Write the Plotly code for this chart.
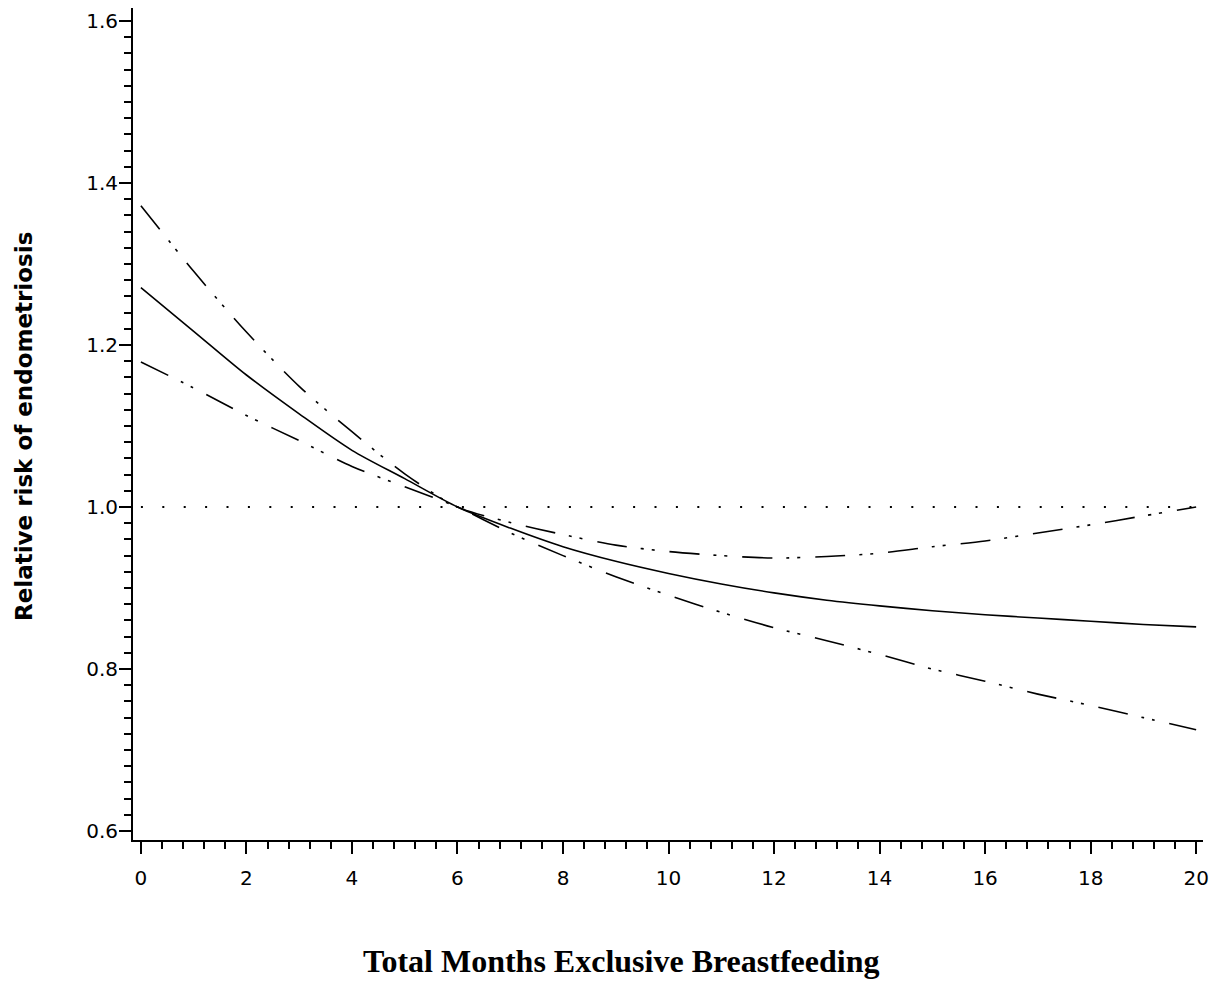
import plotly.graph_objects as go

# Data
months = list(range(21))
relative_risk = [1.271, 1.217, 1.163, 1.115, 1.070, 1.035, 1.000, 0.974, 0.951, 0.933, 0.918,
                 0.905, 0.894, 0.885, 0.878, 0.872, 0.867, 0.863, 0.859, 0.855, 0.852]
upper_ci = [1.372, 1.291, 1.216, 1.149, 1.093, 1.041, 1.000, 0.981, 0.966, 0.953, 0.945,
            0.940, 0.937, 0.939, 0.943, 0.951, 0.958, 0.968, 0.978, 0.989, 1.000]
lower_ci = [1.179, 1.147, 1.113, 1.082, 1.050, 1.025, 1.000, 0.968, 0.940, 0.914, 0.891,
            0.870, 0.851, 0.835, 0.818, 0.800, 0.785, 0.769, 0.755, 0.740, 0.725]
ref_x = [0, 20]
ref_y = [1.0, 1.0]
x_ticks = [0, 2, 4, 6, 8, 10, 12, 14, 16, 18, 20]
y_ticks = [0.6, 0.8, 1.0, 1.2, 1.4, 1.6]
x_title = "Total Months Exclusive Breastfeeding"
y_title = "Relative risk of endometriosis"

fig = go.Figure()
fig.add_trace(go.Scatter(x=ref_x, y=ref_y, mode="lines",
                         line=dict(color="black", width=2, dash="2px,19.4px"),
                         hoverinfo="skip"))
fig.add_trace(go.Scatter(x=months, y=upper_ci, mode="lines",
                         line=dict(color="black", width=1.6, shape="spline", smoothing=0.8,
                                   dash="30px,14px,3px,8px,3px,15px")))
fig.add_trace(go.Scatter(x=months, y=lower_ci, mode="lines",
                         line=dict(color="black", width=1.6, shape="spline", smoothing=0.8,
                                   dash="30px,14px,3px,8px,3px,15px")))
fig.add_trace(go.Scatter(x=months, y=relative_risk, mode="lines",
                         line=dict(color="black", width=1.6, shape="spline", smoothing=0.8)))

tickfont = dict(family="DejaVu Sans", size=20, color="black")

# The page body has an 8px margin, so the figure is 8px smaller on each axis
fig.update_layout(
    width=1212, height=978,
    margin=dict(l=125, r=17, t=0, b=146, autoexpand=False),
    paper_bgcolor="white", plot_bgcolor="white",
    showlegend=False,
    xaxis=dict(range=[-0.15, 20.13], tickvals=x_ticks, ticks="outside", ticklen=12,
               tickwidth=2, tickcolor="black", showline=True, linecolor="black", linewidth=2,
               showgrid=False, zeroline=False, tickfont=tickfont, ticklabelstandoff=7,
               automargin=False,
               minor=dict(dtick=0.4, tick0=0, ticks="outside", ticklen=7, tickwidth=2,
                          tickcolor="black", showgrid=False)),
    yaxis=dict(range=[0.5889, 1.6161], tickvals=y_ticks, tickformat=".1f", ticks="outside",
               ticklen=12, tickwidth=2, tickcolor="black", showline=True, linecolor="black",
               linewidth=2, showgrid=False, zeroline=False, tickfont=tickfont,
               ticklabelstandoff=-3, automargin=False,
               minor=dict(dtick=0.02, tick0=0.6, ticks="outside", ticklen=7, tickwidth=2,
                          tickcolor="black", showgrid=False)),
    annotations=[
        dict(text=f"<b>{x_title}</b>", xref="paper", yref="paper", x=0, y=0,
             xanchor="left", yanchor="middle", xshift=228, yshift=-121, showarrow=False,
             font=dict(family="Liberation Serif", size=32, color="black")),
        dict(text=f"<b>{y_title}</b>", xref="paper", yref="paper", x=0, y=0.5,
             xanchor="center", yanchor="middle", xshift=-109, yshift=-3, textangle=-90,
             showarrow=False,
             font=dict(family="DejaVu Sans", size=23, color="black")),
    ],
)

fig.write_html("out.html")
